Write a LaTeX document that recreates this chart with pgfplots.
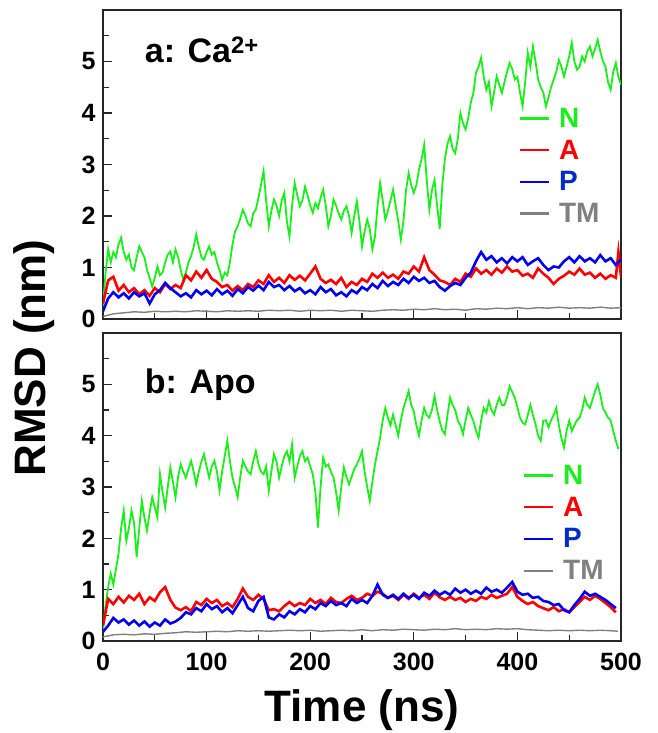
\documentclass[border=0pt]{standalone}
\usepackage{pgfplots}
\pgfplotsset{compat=1.18}
\usepackage{fontspec}
\setmainfont{Liberation Sans}
\definecolor{cN}{RGB}{25,240,25}
\definecolor{cA}{RGB}{255,0,0}
\definecolor{cP}{RGB}{0,0,240}
\definecolor{cPt}{RGB}{0,45,200}
\definecolor{cT}{RGB}{128,128,128}
\pgfplotsset{
  rmsd/.style={
    scale only axis, width=518pt, height=309pt,
    xmin=0,xmax=500,ymin=0,ymax=6,
    xtick={0,100,...,500}, minor xtick={50,150,...,450},
    ytick={0,1,...,5}, minor ytick={0.5,1.5,...,5.5},
    tick align=inside, xtick pos=bottom, ytick pos=left,
    major tick length=9pt, minor tick length=6pt,
    axis line style={line width=1.5pt, black!85},
    every tick/.append style={line width=1.3pt, black!85},
    ticklabel style={font=\fontsize{25}{25}\selectfont\bfseries},
    yticklabel style={xshift=-4pt},
    xticklabel style={yshift=-9pt},
    /pgf/number format/assume math mode=true,
    legend style={draw=none, fill=none, font=\fontsize{28}{28}\selectfont\bfseries, inner sep=0pt, row sep=9pt, nodes={inner sep=1pt}, cells={anchor=west},
      /tikz/every odd column/.append style={column sep=8pt}},
    legend image code/.code={\draw[#1, line width=2.4pt] (0pt,0pt) -- (29pt,0pt);},
  }
}
\begin{document}
\begin{tikzpicture}[x=1pt,y=1pt]
\path[use as bounding box] (0,0) rectangle (657,733);
\begin{axis}[rmsd, at={(103pt,414pt)}, anchor=south west, xticklabels=\empty,
  legend style={at={(axis cs:401,4.12)}, anchor=north west}]
\addplot[cN, line width=1.8pt] coordinates {(0,0.25)(2.5,0.9)(5,1.35)(7.5,1.1)(10,1.3)(12.5,1.2)(15,1.45)(17.5,1.58)(20,1.3)(22.5,1.15)(25,1.25)(27.5,1.0)(30,0.95)(32.5,1.2)(35,1.41)(37.5,1.3)(40,1.2)(42.5,0.95)(45,0.8)(47.5,0.63)(50,0.8)(52.5,1.02)(55,0.85)(57.5,0.9)(60,1.1)(62.5,1.25)(65,1.31)(67.5,1.1)(70,1.35)(72.5,1.2)(75,0.95)(77.5,0.76)(80,0.9)(82.5,1.1)(85,1.22)(87.5,1.4)(90,1.64)(92.5,1.4)(95,1.2)(97.5,1.15)(100,1.3)(102.5,1.41)(105,1.25)(107.5,1.3)(110,1.1)(112.5,0.95)(115,0.76)(117.5,0.9)(120,0.85)(122.5,1.1)(125,1.45)(127.5,1.7)(130,1.8)(132.5,1.95)(135,2.12)(137.5,2.0)(140,1.85)(142.5,1.8)(145,2.05)(147.5,2.12)(150,2.35)(152.5,2.6)(155,2.87)(157.5,2.3)(160,1.8)(162.5,2.1)(165,2.32)(167.5,2.2)(170,2.0)(172.5,2.3)(175,2.45)(177.5,1.9)(180,1.6)(182.5,2.2)(185,2.64)(187.5,2.4)(190,2.19)(192.5,2.3)(195,2.57)(197.5,2.4)(200,2.2)(202.5,2.06)(205,2.25)(207.5,2.15)(210,2.35)(212.5,2.51)(215,2.2)(217.5,1.8)(220,2.0)(222.5,2.32)(225,2.2)(227.5,2.05)(230,1.93)(232.5,2.1)(235,2.19)(237.5,2.0)(240,1.67)(242.5,2.0)(245,2.28)(247.5,1.9)(250,1.41)(252.5,1.7)(255,1.93)(257.5,1.75)(260,1.35)(262.5,1.6)(265,2.2)(267.5,2.64)(270,2.3)(272.5,1.93)(275,2.1)(277.5,2.3)(280,2.51)(282.5,2.2)(285,1.9)(287.5,1.54)(290,1.9)(292.5,2.5)(295,2.83)(297.5,2.6)(300,2.45)(302.5,2.6)(305,2.9)(307.5,3.1)(310,3.38)(312.5,2.7)(315,2.12)(317.5,2.5)(320,2.7)(322.5,2.2)(325,1.75)(327.5,2.6)(330,3.1)(332.5,3.4)(335,3.55)(337.5,3.3)(340,3.22)(342.5,3.5)(345,4.0)(347.5,3.8)(350,3.68)(352.5,3.9)(355,4.2)(357.5,4.39)(360,4.78)(362.5,4.9)(365,5.07)(367.5,4.7)(370,4.45)(372.5,4.6)(375,4.13)(377.5,4.4)(380,4.71)(382.5,4.55)(385,4.39)(387.5,4.6)(390,4.8)(392.5,4.97)(395,4.85)(397.5,4.65)(400,4.7)(402.5,4.4)(405,4.13)(407.5,4.6)(410,5.17)(412.5,4.9)(415,5.29)(417.5,5.0)(420,4.65)(422.5,4.5)(425,4.4)(427.5,4.13)(430,4.3)(432.5,4.5)(435,4.65)(437.5,4.8)(440,5.03)(442.5,4.9)(445,4.71)(447.5,4.9)(450,5.1)(452.5,5.36)(455,5.0)(457.5,4.84)(460,4.9)(462.5,5.1)(465,5.0)(467.5,5.2)(470,5.29)(472.5,5.1)(475,5.25)(477.5,5.42)(480,5.2)(482.5,5.0)(485,4.9)(487.5,4.6)(490,4.45)(492.5,4.8)(495,4.97)(497.5,4.7)(500,4.55)};
\addlegendentry{\textcolor{cN}{N}}
\addplot[cA, line width=2.6pt] coordinates {(0,0.3)(5,0.75)(10,0.82)(15,0.55)(20,0.66)(25,0.52)(30,0.6)(35,0.48)(40,0.56)(45,0.45)(50,0.6)(55,0.52)(60,0.68)(65,0.58)(70,0.66)(75,0.6)(80,0.85)(85,0.75)(90,0.92)(95,0.8)(100,0.95)(105,0.78)(110,0.72)(115,0.62)(120,0.66)(125,0.55)(130,0.64)(135,0.56)(140,0.68)(145,0.62)(150,0.75)(155,0.68)(160,0.85)(165,0.72)(170,0.8)(175,0.7)(180,0.85)(185,0.76)(190,0.84)(195,0.75)(200,0.88)(205,1.02)(210,0.78)(215,0.7)(220,0.76)(225,0.68)(230,0.8)(235,0.62)(240,0.72)(245,0.66)(250,0.78)(255,0.72)(260,0.88)(265,0.8)(270,0.9)(275,0.8)(280,0.86)(285,0.78)(290,0.92)(295,0.88)(300,1.02)(305,0.92)(310,1.2)(315,0.95)(320,0.86)(325,0.75)(330,0.72)(335,0.66)(340,0.78)(345,0.72)(350,0.88)(355,0.82)(360,0.98)(365,0.88)(370,0.95)(375,0.86)(380,0.98)(385,0.9)(390,1.02)(395,0.92)(400,0.95)(405,0.84)(410,0.88)(415,0.8)(420,0.98)(425,0.88)(430,0.8)(435,0.68)(440,0.78)(445,0.84)(450,0.92)(455,0.86)(460,0.98)(465,0.86)(470,0.9)(475,0.8)(480,0.88)(485,0.78)(490,0.85)(495,0.8)(497.5,1.3)(500,0.82)};
\addlegendentry{\textcolor{cA}{A}}
\addplot[cP, line width=2.6pt] coordinates {(0,0.15)(5,0.4)(10,0.52)(15,0.42)(20,0.5)(25,0.4)(30,0.52)(35,0.44)(40,0.5)(45,0.3)(50,0.48)(55,0.56)(60,0.7)(65,0.6)(70,0.52)(75,0.44)(80,0.5)(85,0.42)(90,0.56)(95,0.48)(100,0.55)(105,0.46)(110,0.58)(115,0.48)(120,0.55)(125,0.45)(130,0.58)(135,0.5)(140,0.62)(145,0.55)(150,0.65)(155,0.56)(160,0.72)(165,0.62)(170,0.66)(175,0.56)(180,0.64)(185,0.54)(190,0.6)(195,0.5)(200,0.56)(205,0.48)(210,0.62)(215,0.52)(220,0.58)(225,0.46)(230,0.52)(235,0.44)(240,0.56)(245,0.5)(250,0.62)(255,0.56)(260,0.68)(265,0.6)(270,0.74)(275,0.64)(280,0.72)(285,0.66)(290,0.78)(295,0.7)(300,0.82)(305,0.74)(310,0.8)(315,0.7)(320,0.74)(325,0.62)(330,0.55)(335,0.64)(340,0.7)(345,0.66)(350,0.8)(355,0.9)(360,1.12)(365,1.3)(370,1.15)(375,1.22)(380,1.1)(385,1.18)(390,1.08)(395,1.2)(400,1.12)(405,1.2)(410,1.05)(415,1.12)(420,1.18)(425,1.05)(430,0.95)(435,1.02)(440,1.0)(445,1.12)(450,1.2)(455,1.1)(460,1.22)(465,1.12)(470,1.18)(475,1.1)(480,1.24)(485,1.12)(490,1.18)(495,1.05)(500,1.15)};
\addlegendentry{\textcolor{cPt}{P}}
\addplot[cT, line width=1.4pt] coordinates {(0,0.05)(10,0.1)(20,0.12)(30,0.14)(40,0.13)(50,0.15)(60,0.14)(70,0.15)(80,0.14)(90,0.16)(100,0.15)(110,0.14)(120,0.16)(130,0.15)(140,0.16)(150,0.15)(160,0.17)(170,0.16)(180,0.17)(190,0.15)(200,0.17)(210,0.16)(220,0.17)(230,0.15)(240,0.17)(250,0.16)(260,0.15)(270,0.17)(280,0.18)(290,0.17)(300,0.19)(310,0.18)(320,0.2)(330,0.18)(340,0.19)(350,0.17)(360,0.2)(370,0.19)(380,0.21)(390,0.2)(400,0.22)(410,0.2)(420,0.22)(430,0.21)(440,0.23)(450,0.21)(460,0.22)(470,0.21)(480,0.23)(490,0.21)(500,0.22)};
\addlegendentry{\textcolor{cT}{TM}}
\node[anchor=base west, font=\fontsize{34}{34}\selectfont\bfseries] at (axis cs:37,4.98) {a: Ca\textsuperscript{2+}};
\end{axis}
\begin{axis}[rmsd, at={(103pt,92pt)}, anchor=south west, height=308pt,
  legend style={at={(axis cs:405,3.45)}, anchor=north west}]
\addplot[cN, line width=1.8pt] coordinates {(0,0.2)(2.5,0.7)(5,1.05)(7.5,1.31)(10,1.1)(12.5,1.4)(15,1.7)(17.5,2.2)(20,2.54)(22.5,1.95)(25,2.2)(27.5,2.54)(30,2.3)(32.5,1.63)(35,2.2)(37.5,2.73)(40,2.4)(42.5,2.15)(45,2.5)(47.5,2.8)(50,2.6)(52.5,2.41)(55,3.25)(57.5,2.9)(60,2.6)(62.5,3.0)(65,3.38)(67.5,3.1)(70,2.8)(72.5,3.2)(75,3.44)(77.5,3.3)(80,3.18)(82.5,3.35)(85,3.51)(87.5,3.3)(90,3.05)(92.5,3.3)(95,3.5)(97.5,3.64)(100,3.4)(102.5,3.18)(105,3.4)(107.5,3.51)(110,3.3)(112.5,2.93)(115,3.3)(117.5,3.6)(120,3.9)(122.5,3.5)(125,3.18)(127.5,3.0)(130,2.8)(132.5,3.2)(135,3.51)(137.5,3.4)(140,3.3)(142.5,3.25)(145,3.5)(147.5,3.7)(150,3.45)(152.5,3.3)(155,3.25)(157.5,3.4)(160,2.93)(162.5,3.3)(165,3.64)(167.5,3.5)(170,3.18)(172.5,3.4)(175,3.6)(177.5,3.7)(180,3.5)(182.5,3.83)(185,3.18)(187.5,3.4)(190,3.6)(192.5,3.7)(195,3.5)(197.5,3.57)(200,3.4)(202.5,3.25)(205,2.9)(207.5,2.21)(210,3.0)(212.5,3.57)(215,3.4)(217.5,3.44)(220,3.3)(222.5,3.18)(225,2.9)(227.5,2.54)(230,3.0)(232.5,3.38)(235,3.2)(237.5,3.05)(240,3.2)(242.5,3.35)(245,3.44)(247.5,3.55)(250,3.7)(252.5,3.3)(255,3.0)(257.5,2.73)(260,3.1)(262.5,3.44)(265,3.7)(267.5,3.96)(270,4.3)(272.5,4.54)(275,4.35)(277.5,4.2)(280,4.41)(282.5,4.2)(285,4.0)(287.5,4.3)(290,4.54)(292.5,4.7)(295,4.87)(297.5,4.6)(300,4.47)(302.5,4.2)(305,4.0)(307.5,4.3)(310,4.54)(312.5,4.4)(315,4.35)(317.5,4.5)(320,4.77)(322.5,4.5)(325,4.28)(327.5,4.1)(330,4.03)(332.5,4.4)(335,4.74)(337.5,4.6)(340,4.5)(342.5,4.29)(345,4.2)(347.5,4.03)(350,4.3)(352.5,4.54)(355,4.4)(357.5,4.29)(360,4.1)(362.5,3.96)(365,4.3)(367.5,4.54)(370,4.45)(372.5,4.67)(375,4.5)(377.5,4.41)(380,4.6)(382.5,4.74)(385,4.6)(387.5,4.6)(390,4.75)(392.5,4.96)(395,4.85)(397.5,4.74)(400,4.55)(402.5,4.35)(405,4.25)(407.5,4.22)(410,4.4)(412.5,4.6)(415,4.4)(417.5,4.22)(420,4.0)(422.5,3.9)(425,4.29)(427.5,4.3)(430,4.16)(432.5,4.3)(435,4.4)(437.5,4.54)(440,4.2)(442.5,3.95)(445,3.77)(447.5,4.1)(450,4.29)(452.5,4.09)(455,4.2)(457.5,4.3)(460,4.35)(462.5,4.5)(465,4.74)(467.5,4.6)(470,4.54)(472.5,4.7)(475,4.87)(477.5,5.0)(480,4.8)(482.5,4.54)(485,4.45)(487.5,4.35)(490,4.3)(492.5,4.09)(495,3.9)(497.5,3.74)};
\addlegendentry{\textcolor{cN}{N}}
\addplot[cA, line width=2.6pt] coordinates {(0,0.3)(5,0.82)(10,0.72)(15,0.86)(20,0.75)(25,0.88)(30,0.8)(35,0.92)(40,0.72)(45,0.85)(50,0.78)(55,0.95)(60,1.05)(65,0.8)(70,0.65)(75,0.6)(80,0.66)(85,0.58)(90,0.76)(95,0.7)(100,0.82)(105,0.74)(110,0.8)(115,0.68)(120,0.74)(125,0.66)(130,0.82)(135,1.02)(140,0.86)(145,0.8)(150,0.9)(155,0.82)(160,0.6)(165,0.62)(170,0.58)(175,0.68)(180,0.76)(185,0.68)(190,0.74)(195,0.7)(200,0.82)(205,0.74)(210,0.8)(215,0.72)(220,0.84)(225,0.76)(230,0.74)(235,0.82)(240,0.88)(245,0.8)(250,0.84)(255,0.92)(260,0.88)(265,0.96)(270,0.92)(275,0.84)(280,0.88)(285,0.8)(290,0.9)(295,0.82)(300,0.92)(305,0.84)(310,0.9)(315,0.82)(320,0.94)(325,0.85)(330,0.8)(335,0.86)(340,0.8)(345,0.84)(350,0.76)(355,0.82)(360,0.78)(365,0.86)(370,0.82)(375,0.9)(380,0.84)(385,0.88)(390,0.92)(395,1.05)(400,0.86)(405,0.78)(410,0.72)(415,0.76)(420,0.68)(425,0.64)(430,0.6)(435,0.66)(440,0.58)(445,0.62)(450,0.56)(455,0.66)(460,0.76)(465,0.86)(470,0.8)(475,0.88)(480,0.82)(485,0.74)(490,0.66)(495,0.56)};
\addlegendentry{\textcolor{cA}{A}}
\addplot[cP, line width=2.6pt] coordinates {(0,0.18)(5,0.3)(10,0.45)(15,0.36)(20,0.42)(25,0.32)(30,0.4)(35,0.3)(40,0.38)(45,0.28)(50,0.36)(55,0.3)(60,0.42)(65,0.34)(70,0.38)(75,0.45)(80,0.56)(85,0.52)(90,0.64)(95,0.58)(100,0.72)(105,0.62)(110,0.68)(115,0.56)(120,0.64)(125,0.54)(130,0.7)(135,0.86)(140,0.64)(145,0.58)(150,0.78)(155,0.86)(160,0.46)(165,0.42)(170,0.52)(175,0.46)(180,0.58)(185,0.52)(190,0.62)(195,0.56)(200,0.68)(205,0.62)(210,0.74)(215,0.68)(220,0.78)(225,0.7)(230,0.74)(235,0.68)(240,0.82)(245,0.74)(250,0.8)(255,0.74)(260,0.88)(265,1.1)(270,0.9)(275,0.84)(280,0.9)(285,0.82)(290,0.92)(295,0.84)(300,0.9)(305,0.82)(310,0.94)(315,0.88)(320,0.98)(325,0.9)(330,0.96)(335,0.9)(340,1.02)(345,0.94)(350,1.0)(355,0.92)(360,0.98)(365,0.92)(370,1.04)(375,0.96)(380,1.0)(385,0.94)(390,1.04)(395,1.15)(400,0.96)(405,0.9)(410,0.92)(415,0.84)(420,0.86)(425,0.78)(430,0.76)(435,0.7)(440,0.72)(445,0.6)(450,0.56)(455,0.7)(460,0.82)(465,0.96)(470,0.88)(475,0.92)(480,0.86)(485,0.8)(490,0.72)(495,0.64)};
\addlegendentry{\textcolor{cPt}{P}}
\addplot[cT, line width=1.4pt] coordinates {(0,0.08)(10,0.12)(20,0.13)(30,0.12)(40,0.14)(50,0.13)(60,0.15)(70,0.16)(80,0.18)(90,0.17)(100,0.18)(110,0.19)(120,0.18)(130,0.2)(140,0.19)(150,0.2)(160,0.19)(170,0.2)(180,0.21)(190,0.2)(200,0.21)(210,0.19)(220,0.2)(230,0.21)(240,0.2)(250,0.22)(260,0.2)(270,0.22)(280,0.21)(290,0.23)(300,0.22)(310,0.21)(320,0.23)(330,0.22)(340,0.24)(350,0.22)(360,0.23)(370,0.22)(380,0.24)(390,0.23)(400,0.24)(410,0.22)(420,0.21)(430,0.2)(440,0.21)(450,0.2)(460,0.21)(470,0.2)(480,0.21)(490,0.2)(497,0.19)};
\addlegendentry{\textcolor{cT}{TM}}
\node[anchor=base west, font=\fontsize{34}{34}\selectfont\bfseries] at (axis cs:37,4.83) {b: Apo};
\end{axis}
\node[rotate=90, font=\fontsize{44}{44}\selectfont\bfseries] at (34,375) {RMSD (nm)};
\node[anchor=base, font=\fontsize{44}{44}\selectfont\bfseries] at (362,11) {Time (ns)};
\end{tikzpicture}
\end{document}
